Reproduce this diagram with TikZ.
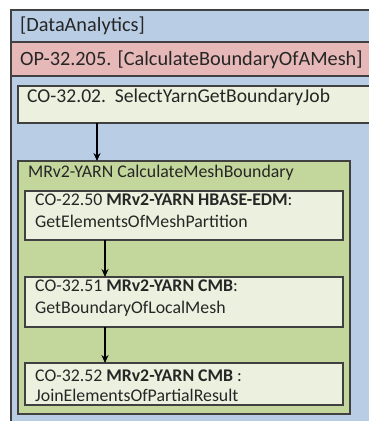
\documentclass[tikz,border=0pt]{standalone}
\usepackage{fontspec}
\setmainfont{Carlito}
\usetikzlibrary{arrows.meta}
\definecolor{bgblue}{HTML}{B9CDE5}
\definecolor{bandred}{HTML}{E6B9B8}
\definecolor{palegreen}{HTML}{EBF1DE}
\definecolor{midgreen}{HTML}{C3D69B}
\definecolor{edge}{HTML}{404040}
\tikzset{
  box/.style={draw=edge, line width=1.2pt, anchor=north west, inner sep=0pt, outer sep=0pt},
  lbl/.style={anchor=base west, inner sep=0pt, font=\fontsize{17.8}{21}\selectfont, text=black!85},
  biglbl/.style={lbl, font=\fontsize{20.3}{24}\selectfont},
  midlbl/.style={lbl, font=\fontsize{19.6}{23}\selectfont},
  arr/.style={-{Stealth[length=8pt,width=7pt]}, line width=1.3pt, black}
}
\begin{document}
\begin{tikzpicture}[x=1pt,y=-1pt]
\useasboundingbox (0,0) rectangle (369,421);
\clip (0,0) rectangle (369,421);
\fill[white] (0,0) rectangle (369,421);
% outer container
\node[box, fill=bgblue, minimum width=380pt, minimum height=430pt] (outer) at (11,10) {};
\node[biglbl] (title) at (20,31) {[DataAnalytics]};
% red band
\node[box, fill=bandred, minimum width=380pt, minimum height=34pt] (band) at (11,42) {};
\node[biglbl] (op) at (20,65) {OP-32.205. [CalculateBoundaryOfAMesh]};
% CO-32.02
\node[box, fill=palegreen, minimum width=380pt, minimum height=37pt] (co3202) at (18,86) {};
\node[midlbl] (co3202t) at (27,102) {CO-32.02.\ \ SelectYarnGetBoundaryJob};
% green container
\node[box, fill=midgreen, minimum width=332pt, minimum height=253pt] (green) at (18,161) {};
\node[lbl] (greent) at (28,177) {MRv2-YARN CalculateMeshBoundary};
% inner boxes
\node[box, fill=palegreen, minimum width=318pt, minimum height=49pt] (co2250) at (25,191) {};
\node[lbl] (co2250a) at (35,205) {CO-22.50 \textbf{MRv2-YARN HBASE-EDM}:};
\node[lbl] (co2250b) at (35,227) {GetElementsOfMeshPartition};
\node[box, fill=palegreen, minimum width=318pt, minimum height=50pt] (co3251) at (25,277) {};
\node[lbl] (co3251a) at (35,291) {CO-32.51 \textbf{MRv2-YARN CMB}:};
\node[lbl] (co3251b) at (35,313) {GetBoundaryOfLocalMesh};
\node[box, fill=palegreen, minimum width=318pt, minimum height=42pt] (co3252) at (25,363) {};
\node[lbl] (co3252a) at (35,381) {CO-32.52 \textbf{MRv2-YARN CMB} :};
\node[lbl] (co3252b) at (35,401) {JoinElementsOfPartialResult};
% arrows
\draw[arr] ([xshift=79pt]co3202.south west) -- ([xshift=79pt]green.north west);
\draw[arr] ([xshift=80pt]co2250.south west) -- ([xshift=80pt]co3251.north west);
\draw[arr] ([xshift=80pt]co3251.south west) -- ([xshift=80pt]co3252.north west);
\end{tikzpicture}
\end{document}
